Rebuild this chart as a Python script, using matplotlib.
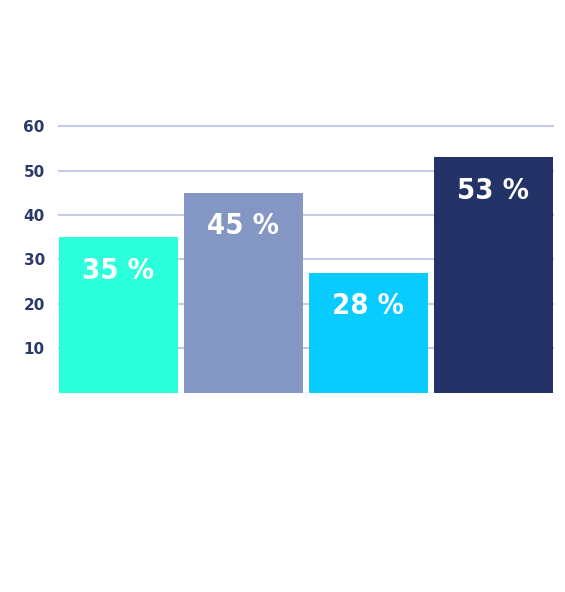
import matplotlib
matplotlib.use("Agg")
import matplotlib.pyplot as plt
from matplotlib import font_manager

categories = ["A", "B", "C", "D"]
values = [35, 45, 27, 53]
labels = ["35 %", "45 %", "28 %", "53 %"]
colors = ["#2CFFDC", "#8497C4", "#08CBFF", "#233367"]
yticks = [10, 20, 30, 40, 50, 60]

# condensed bold face for the bar labels, if installed
cand = []
for f in font_manager.fontManager.ttflist:
    key = (f.name + " " + f.fname).lower()
    if "condensed" in key or "narrow" in key:
        w = f.weight if isinstance(f.weight, int) else 400
        cand.append((abs(w - 700), f.fname))
cand.sort()
if cand:
    label_prop = font_manager.FontProperties(fname=cand[0][1], size=21)
else:
    label_prop = font_manager.FontProperties(family="DejaVu Sans", weight="bold", size=19)

fig = plt.figure(figsize=(5.65, 5.92), dpi=100)
ax = fig.add_axes([58.7 / 565, (592 - 392.5) / 592, 494 / 565, 266.2 / 592])

x = list(range(len(categories)))
ax.bar(x, values, width=0.95, color=colors, zorder=2)
ax.set_xlim(-0.475, len(categories) - 1 + 0.475)
ax.set_ylim(0, 60)
ax.set_yticks(yticks)
ax.set_yticklabels([str(t) for t in yticks])
ax.set_xticks([])
ax.tick_params(axis="y", length=0, pad=10, labelsize=11, labelcolor="#2B3A6B")
for lab in ax.get_yticklabels():
    lab.set_fontweight("bold")
ax.yaxis.grid(True, color="#C5CAE5", linewidth=1.5, zorder=1)
for gl in ax.get_ygridlines():
    gl.set_clip_on(False)
ax.set_axisbelow(True)
for s in ax.spines.values():
    s.set_visible(False)

for xi, v, lab in zip(x, values, labels):
    ax.annotate(lab, xy=(xi, v), xytext=(0, -24), textcoords="offset points",
                ha="center", va="center", color="white",
                fontproperties=label_prop, zorder=3)

fig.savefig("out.png", dpi=100)
